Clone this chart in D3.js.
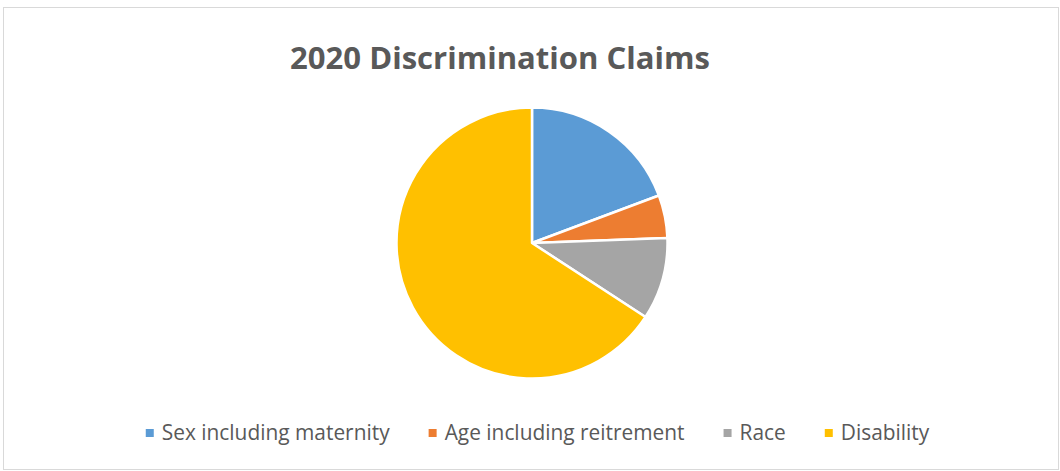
<!DOCTYPE html>
<html>
<head>
<meta charset="utf-8">
<script src="https://cdn.jsdelivr.net/npm/d3@7"></script>
<style>
  html, body { margin: 0; padding: 0; background: #fff; }
  svg { display: block; }
</style>
</head>
<body>
<svg id="chart" width="1060" height="471"></svg>
<script>
// values (shares of the total)
var categories = ["Sex including maternity", "Age including reitrement", "Race", "Disability"];
var values = [19.3, 5.1, 9.8, 65.8];
var colors = ["#5B9BD5", "#ED7D31", "#A5A5A5", "#FFC000"];
var title = "2020 Discrimination Claims";

var width = 1060,
    height = 471,
    svg = d3.select("#chart"),
    fontFamily = "'Open Sans', 'Noto Sans', sans-serif";

// outer chart border
svg.append("rect")
    .attr("x", 3.5)
    .attr("y", 7.5)
    .attr("width", 1055)
    .attr("height", 462)
    .attr("fill", "#fff")
    .attr("stroke", "#d9d9d9")
    .attr("stroke-width", 1);

// title, fitted to the width it has in the reference (290..710)
var t = svg.append("text")
    .attr("x", 500)
    .attr("y", 69)
    .attr("text-anchor", "middle")
    .attr("fill", "#595959")
    .style("font-family", fontFamily)
    .style("font-weight", "bold")
    .style("font-size", "28px")
    .text(title);
var tw = t.node().getComputedTextLength();
t.style("font-size", (28 * 420 / tw) + "px");

// pie
var cx = 532, cy = 243, r = 135.5;

var pie = d3.pie()
    .sort(null)
    .value(function(d) { return d; });

var arc = d3.arc()
    .innerRadius(0)
    .outerRadius(r);

var color = d3.scaleOrdinal()
    .domain(categories)
    .range(colors);

var g = svg.append("g")
    .attr("transform", "translate(" + cx + "," + cy + ")");

g.selectAll("path")
    .data(pie(values))
    .enter()
    .append("path")
    .attr("d", arc)
    .attr("fill", function(d, i) { return color(categories[i]); })
    .attr("stroke", "#fff")
    .attr("stroke-width", 2.5)
    .attr("stroke-linejoin", "round");

// legend, laid out from measured text widths
var legendY = 433,
    box = 8,
    boxGap = 8,
    itemGap = 39,
    legend = svg.append("g"),
    items = legend.selectAll("g")
        .data(categories)
        .enter()
        .append("g");

items.append("rect")
    .attr("width", box)
    .attr("height", box)
    .attr("y", legendY - box / 2)
    .attr("fill", function(d) { return color(d); });

items.append("text")
    .attr("x", box + boxGap)
    .attr("y", legendY)
    .attr("dy", "0.35em")
    .attr("fill", "#595959")
    .style("font-family", fontFamily)
    .style("font-size", "20px")
    .text(function(d) { return d; });

// fit legend font so "Sex including maternity" is ~228px wide as in the reference
var firstW = items.select("text").node().getComputedTextLength();
items.select("text").style("font-size", (20 * 228 / firstW) + "px");

var x = 0, offsets = [];
items.each(function() {
    var w = d3.select(this).select("text").node().getComputedTextLength();
    offsets.push(x);
    x += box + boxGap + w + itemGap;
});
var total = x - itemGap,
    startX = (144 + 931) / 2 - total / 2;
items.attr("transform", function(d, i) {
    return "translate(" + (startX + offsets[i]) + ",0)";
});
</script>
</body>
</html>
